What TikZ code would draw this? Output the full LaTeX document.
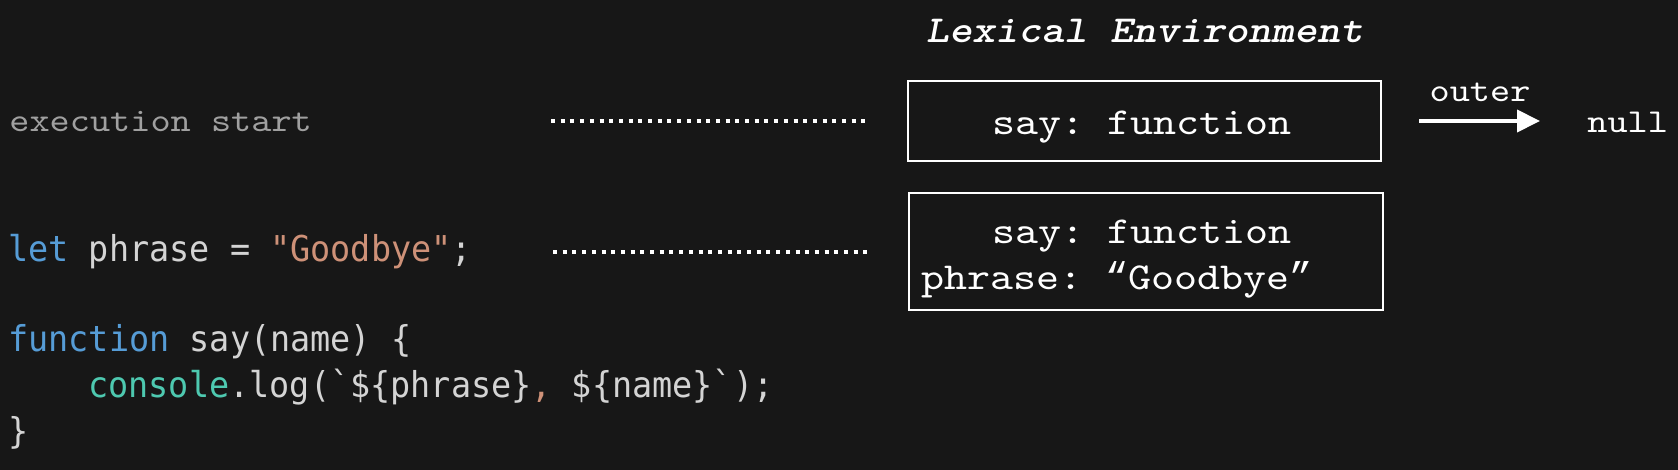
\documentclass[tikz,border=0pt]{standalone}
\usepackage{fontspec}
\usetikzlibrary{arrows.meta}
\newfontfamily\courfont{lmmono10-regular.otf}[FakeStretch=1.15, ItalicFont=lmmono10-italic.otf, BoldFont=lmmonolt10-bold.otf, BoldItalicFont=lmmonolt10-boldoblique.otf]
\newfontfamily\quotefont{Liberation Mono}
\newfontfamily\codefont{DejaVu Sans Mono}[FakeStretch=0.94]
\definecolor{bg}{HTML}{171717}
\definecolor{kw}{HTML}{569CD6}
\definecolor{tx}{HTML}{D4D4D4}
\definecolor{str}{HTML}{CE9178}
\definecolor{fn}{HTML}{4EC9B0}
\definecolor{dim}{HTML}{A0A0A0}
\begin{document}
\frenchspacing
\begin{tikzpicture}[x=0.5pt,y=-0.5pt,
  code/.style={inner sep=0pt, anchor=base west, text=tx, font=\codefont\fontsize{17.8pt}{21pt}\selectfont},
  envtext/.style={inner sep=0pt, text=white, font=\courfont\fontsize{19.05pt}{22pt}\selectfont},
  smalltext/.style={inner sep=0pt, text=white, font=\courfont\fontsize{16.7pt}{20pt}\selectfont},
  envbox/.style={draw=white, line width=1pt, inner sep=0pt},
  dotline/.style={white, line width=2pt, dash pattern=on 2pt off 2.85pt},
  outerarrow/.style={white, line width=2pt, -{Triangle[length=11.5pt,width=11pt]}}]
\fill[bg] (0,0) rectangle (1678,470);
\useasboundingbox (0,0) rectangle (1678,470);

% title
\node[envtext, anchor=base, font=\courfont\bfseries\itshape\fontsize{19.05pt}{22pt}\selectfont] (title) at (1145,43) {Lexical Environment};

% left column
\node[smalltext, anchor=base west, text=dim] (exec) at (9,132) {execution start};
\node[code] (l1) at (8,262) {\color{kw}let \color{tx}phrase = \color{str}\symbol{34}Goodbye\symbol{34}\color{tx};};
\node[code] (l3) at (8,352) {\color{kw}function \color{tx}say(name) \{};
\node[code] (l4) at (88,398) {\color{fn}console\color{tx}.log(\symbol{96}\$\{phrase\}\color{str}, \color{tx}\$\{name\}\symbol{96});};
\node[code] (l5) at (8,444) {\}};

% environment boxes
\node[envbox, minimum width=236.5pt, minimum height=40pt] (le1) at (1144.5,121) {};
\node[envtext, anchor=base west] (le1t) at (992,135) {say: function};
\node[envbox, minimum width=237pt, minimum height=58.5pt] (le2) at (1146,252) {};
\node[envtext, anchor=base west] (le2a) at (992,244) {say: function};
\node[envtext, anchor=base west] (le2b) at (921,290) {phrase: {\quotefont\fontsize{19.3pt}{22pt}\selectfont “}Goodbye{\quotefont\fontsize{19.3pt}{22pt}\selectfont ”}};

% outer reference
\node[smalltext, anchor=base west] (nullnode) at (1587,133) {null};
\node[smalltext, anchor=base] (outerlbl) at (1480,102) {outer};
\draw[outerarrow, shorten <=18.5pt, shorten >=23.5pt] (le1.east) -- (le1.east -| nullnode.west);

% dotted connectors
\coordinate (d1s) at (551,121);
\coordinate (d2s) at (553,252);
\draw[dotline, shorten >=18pt] (d1s) -- (le1.west);
\draw[dotline, shorten >=18pt] (d2s) -- (le2.west);
\end{tikzpicture}
\end{document}
